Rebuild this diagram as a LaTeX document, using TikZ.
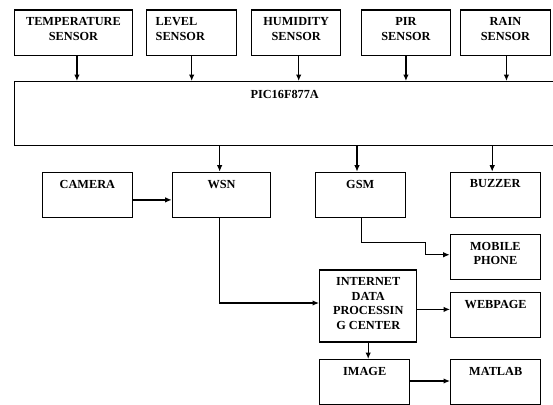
\documentclass[tikz,border=0pt]{standalone}
\usepackage{fontspec}
\setmainfont{Liberation Serif}
\usetikzlibrary{positioning, arrows.meta}

\tikzset{
  blk/.style={draw, line width=1.4pt, anchor=north west, inner sep=0pt, minimum height=45pt},
  txt/.style={font=\bfseries\fontsize{12.3}{14.6}\selectfont, align=center, inner sep=0pt, anchor=north, yshift=-8pt},
  arr/.style={->, line width=1.2pt}
}

\begin{document}
\begin{tikzpicture}[x=1pt, y=-1pt, >={Latex[length=6.5pt,width=5.5pt]}]
  \useasboundingbox (0,0) rectangle (553,404);
  \clip (0,0) rectangle (553,404);

  % sensors
  \node[blk, minimum width=117.5pt] (temp)  at (14,9.5)    {};
  \node[blk, minimum width=90pt]    (level) at (146,9.5)   {};
  \node[blk, minimum width=89pt]    (humid) at (251,9.5)   {};
  \node[blk, minimum width=89.5pt]  (pir)   at (360.5,9.5) {};
  \node[blk, minimum width=89.5pt]  (rain)  at (460,9.5)   {};
  \node[txt] (tempT)  at (temp.north)  {TEMPERATURE\\SENSOR};
  \node[txt, anchor=north west, align=left, xshift=9.5pt] (levelT) at (level.north west) {LEVEL\\SENSOR};
  \node[txt] (humidT) at (humid.north) {HUMIDITY\\SENSOR};
  \node[txt] (pirT)   at (pir.north)   {PIR\\SENSOR};
  \node[txt] (rainT)  at (rain.north)  {RAIN\\SENSOR};

  % controller
  \node[blk, minimum width=540pt, minimum height=64pt] (pic) at (14,81) {};
  \node[txt, yshift=-1pt] (picT) at (pic.north) {PIC16F877A};

  % outputs
  \node[blk, minimum width=90pt]   (camera) at (41.7,171.7)  {};
  \node[blk, minimum width=98.3pt] (wsn)    at (171.7,171.7) {};
  \node[blk, minimum width=90pt]   (gsm)    at (314.5,171.7) {};
  \node[blk, minimum width=90pt]   (buzzer) at (449.5,171.7) {};
  \node[blk, minimum width=90pt, minimum height=45.3pt] (mobile) at (449.7,233.7) {};
  \node[blk, minimum width=97pt, minimum height=72pt]   (inet)   at (319,269.3)   {};
  \node[blk, minimum width=90pt, minimum height=45.3pt] (web)    at (450,291.7)   {};
  \node[blk, minimum width=90pt]   (image)  at (319,359) {};
  \node[blk, minimum width=90pt]   (matlab) at (450,359) {};
  \node[txt] (cameraT) at (camera.north) {CAMERA};
  \node[txt] (wsnT)    at (wsn.north)    {WSN};
  \node[txt] (gsmT)    at (gsm.north)    {GSM};
  \node[txt] (buzzerT) at (buzzer.north) {BUZZER};
  \node[txt] (mobileT) at (mobile.north) {MOBILE\\PHONE};
  \node[txt] (inetT)   at (inet.north)   {INTERNET\\DATA\\PROCESSIN\\G CENTER};
  \node[txt] (webT)    at (web.north)    {WEBPAGE};
  \node[txt] (imageT)  at (image.north)  {IMAGE};
  \node[txt] (matlabT) at (matlab.north) {MATLAB};

  \coordinate (gsmbend) at (425.3,242.3);

  \draw[arr] ([xshift=3.5pt]temp.south) -- ([xshift=3.5pt]temp.south |- pic.north);
  \draw[arr] (level.south) -- (level.south |- pic.north);
  \draw[arr] ([xshift=2.5pt]humid.south) -- ([xshift=2.5pt]humid.south |- pic.north);
  \draw[arr] (pir.south) -- (pir.south |- pic.north);
  \draw[arr] ([xshift=1pt]rain.south) -- ([xshift=1pt]rain.south |- pic.north);

  \draw[arr] ([xshift=-1.9pt]wsn.north |- pic.south) -- ([xshift=-1.9pt]wsn.north);
  \draw[arr] ([xshift=-3.2pt]gsm.north |- pic.south) -- ([xshift=-3.2pt]gsm.north);
  \draw[arr] ([xshift=-3pt]buzzer.north |- pic.south) -- ([xshift=-3pt]buzzer.north);

  \draw[arr] ([yshift=-5pt]camera.east) -- ([yshift=-5pt]camera.east -| wsn.west);
  \draw[arr] ([xshift=-1.9pt]wsn.south) |- ([yshift=3pt]inet.west);
  \draw[arr] ([xshift=1.2pt]gsm.south) |- (gsmbend) |- ([yshift=2.3pt]mobile.west);
  \draw[arr] ([yshift=-3.4pt]inet.east) -- ([yshift=-3.4pt]inet.east -| web.west);
  \draw[arr] (inet.south) -- (inet.south |- image.north);
  \draw[arr] ([yshift=1.2pt]image.east) -- ([yshift=1.2pt]image.east -| matlab.west);
\end{tikzpicture}
\end{document}
